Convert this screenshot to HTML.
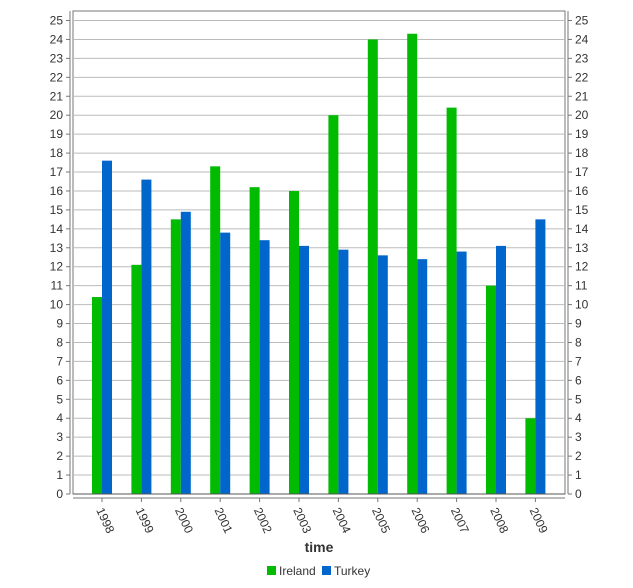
<!DOCTYPE html>
<html><head><meta charset="utf-8"><style>
body{margin:0;background:#fff;font-family:"Liberation Sans",sans-serif}
svg text{font-family:"Liberation Sans",sans-serif;fill:#333}
</style></head><body>
<svg id="chart" width="633" height="583" xmlns="http://www.w3.org/2000/svg"></svg>
<script>
const categories=["1998","1999","2000","2001","2002","2003","2004","2005","2006","2007","2008","2009"];
const ireland=[10.4,12.1,14.5,17.3,16.2,16.0,20.0,24.0,24.3,20.4,11.0,4.0];
const turkey=[17.6,16.6,14.9,13.8,13.4,13.1,12.9,12.6,12.4,12.8,13.1,14.5];
const yTicks=[0,1,2,3,4,5,6,7,8,9,10,11,12,13,14,15,16,17,18,19,20,21,22,23,24,25];
const svg=document.getElementById('chart');
const NS="http://www.w3.org/2000/svg";
function mk(t,a,name,parent){const e=document.createElementNS(NS,t);for(const k in a)e.setAttribute(k,a[k]);


(parent||svg).appendChild(e);return e;}
const L=73,R=565,T=11,B=494;
const y=v=>494-v*18.94;
const step=39.4;const x=i=>102+i*step;
mk('rect',{x:L,y:T,width:R-L,height:B-T,fill:'#fff',stroke:'#777','stroke-width':1},'plot-area');
yTicks.forEach(v=>{
 if(v>0)mk('line',{x1:L,x2:R,y1:y(v),y2:y(v),stroke:'#bbb','stroke-width':1},'gridline');
 mk('line',{x1:66,x2:70,y1:y(v),y2:y(v),stroke:'#777'},'y-tick-left');
 const t=mk('text',{x:63,y:y(v)+4,'text-anchor':'end','font-size':12},'y-tick-label-left');t.textContent=v;
 mk('line',{x1:568,x2:572,y1:y(v),y2:y(v),stroke:'#777'},'y-tick-right');
 const t2=mk('text',{x:575,y:y(v)+4,'font-size':12},'y-tick-label-right');t2.textContent=v;
});
mk('line',{x1:70,x2:70,y1:T,y2:B,stroke:'#777'},'y-axis-left');
mk('line',{x1:568,x2:568,y1:T,y2:B,stroke:'#777'},'y-axis-right');
mk('line',{x1:L,x2:R,y1:498,y2:498,stroke:'#777'},'x-axis');
categories.forEach((c,i)=>{
 mk('rect',{x:x(i)-10,y:y(ireland[i]),width:10,height:ireland[i]*18.94,fill:'#00bb00'},'bar-ireland-'+c);
 mk('rect',{x:x(i),y:y(turkey[i]),width:10,height:turkey[i]*18.94,fill:'#0066cc'},'bar-turkey-'+c);
 mk('line',{x1:x(i),x2:x(i),y1:498,y2:502,stroke:'#777'},'x-tick');
 const t=mk('text',{x:x(i)-6,y:510,'font-size':12,transform:`rotate(65 ${x(i)-6} 510)`},'x-tick-label');t.textContent=c;
});
mk('line',{x1:L,x2:R,y1:B,y2:B,stroke:'#555'},'baseline');
const tt=mk('text',{x:319,y:552,'text-anchor':'middle','font-size':14,'font-weight':'bold'},'x-axis-title');tt.textContent='time';
mk('rect',{x:267,y:566,width:9,height:9,fill:'#00bb00'},'legend-swatch-ireland');
const l1=mk('text',{x:279,y:575,'font-size':12},'legend-label-ireland');l1.textContent='Ireland';
mk('rect',{x:322,y:566,width:9,height:9,fill:'#0066cc'},'legend-swatch-turkey');
const l2=mk('text',{x:334,y:575,'font-size':12},'legend-label-turkey');l2.textContent='Turkey';
</script>
</body></html>
